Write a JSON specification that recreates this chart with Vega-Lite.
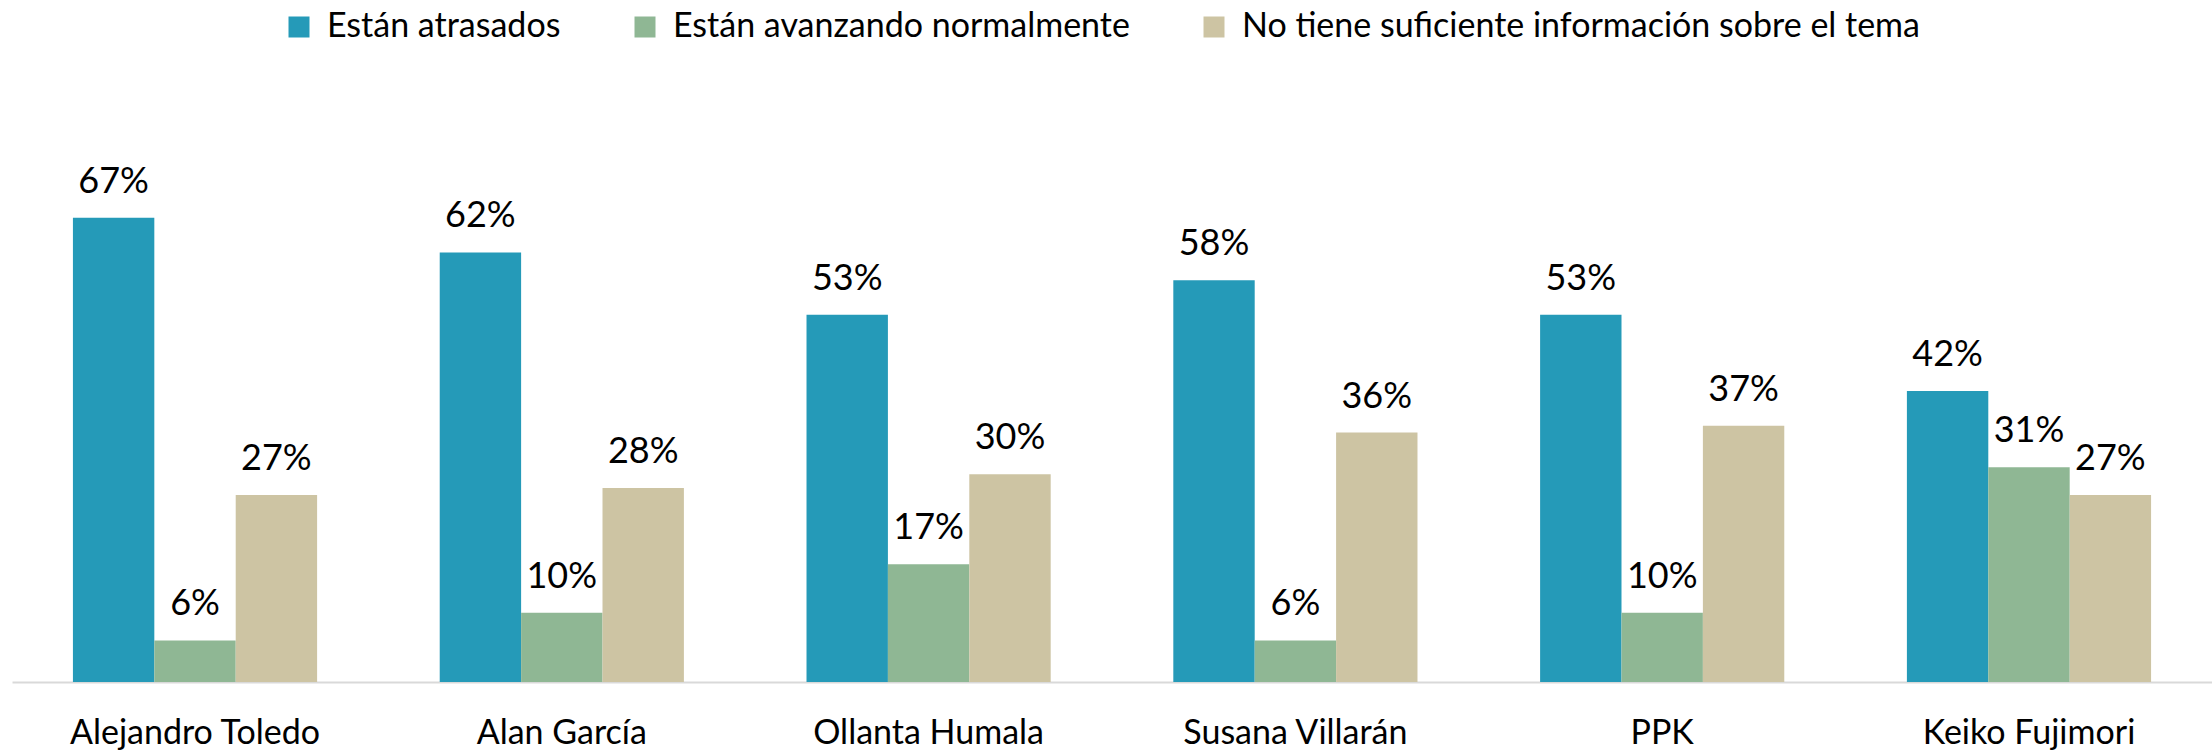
{
  "$schema": "https://vega.github.io/schema/vega-lite/v6.json",
  "autosize": "none",
  "width": 2200,
  "height": 485,
  "padding": {"left": 12, "top": 197, "right": 0, "bottom": 69},
  "background": "white",
  "config": {
    "view": {"stroke": null},
    "font": "Lato",
    "text": {"font": "Lato"}
  },
  "data": {
    "values": [
      {"persona": "Alejandro Toledo", "respuesta": "Están atrasados", "valor": 0.67},
      {"persona": "Alejandro Toledo", "respuesta": "Están avanzando normalmente", "valor": 0.06},
      {"persona": "Alejandro Toledo", "respuesta": "No tiene suficiente información sobre el tema", "valor": 0.27},
      {"persona": "Alan García", "respuesta": "Están atrasados", "valor": 0.62},
      {"persona": "Alan García", "respuesta": "Están avanzando normalmente", "valor": 0.10},
      {"persona": "Alan García", "respuesta": "No tiene suficiente información sobre el tema", "valor": 0.28},
      {"persona": "Ollanta Humala", "respuesta": "Están atrasados", "valor": 0.53},
      {"persona": "Ollanta Humala", "respuesta": "Están avanzando normalmente", "valor": 0.17},
      {"persona": "Ollanta Humala", "respuesta": "No tiene suficiente información sobre el tema", "valor": 0.30},
      {"persona": "Susana Villarán", "respuesta": "Están atrasados", "valor": 0.58},
      {"persona": "Susana Villarán", "respuesta": "Están avanzando normalmente", "valor": 0.06},
      {"persona": "Susana Villarán", "respuesta": "No tiene suficiente información sobre el tema", "valor": 0.36},
      {"persona": "PPK", "respuesta": "Están atrasados", "valor": 0.53},
      {"persona": "PPK", "respuesta": "Están avanzando normalmente", "valor": 0.10},
      {"persona": "PPK", "respuesta": "No tiene suficiente información sobre el tema", "valor": 0.37},
      {"persona": "Keiko Fujimori", "respuesta": "Están atrasados", "valor": 0.42},
      {"persona": "Keiko Fujimori", "respuesta": "Están avanzando normalmente", "valor": 0.31},
      {"persona": "Keiko Fujimori", "respuesta": "No tiene suficiente información sobre el tema", "valor": 0.27}
    ]
  },
  "encoding": {
    "x": {
      "field": "persona",
      "type": "nominal",
      "sort": null,
      "scale": {"paddingInner": 0.3343, "paddingOuter": 0.1661},
      "axis": {
        "title": null,
        "labelAngle": 0,
        "labelFontSize": 34,
        "labelFont": "Lato",
        "labelColor": "#000000",
        "labelPadding": 34,
        "labelLimit": 0,
        "labelOverlap": false,
        "ticks": false,
        "domainColor": "#D9D9D9",
        "domainWidth": 2
      }
    },
    "xOffset": {
      "field": "respuesta",
      "type": "nominal",
      "sort": null,
      "scale": {"paddingInner": 0, "paddingOuter": 0}
    },
    "y": {
      "field": "valor",
      "type": "quantitative",
      "scale": {"domain": [0, 0.7], "nice": false},
      "axis": null
    }
  },
  "layer": [
    {
      "mark": {"type": "bar"},
      "encoding": {
        "color": {
          "field": "respuesta",
          "type": "nominal",
          "sort": null,
          "scale": {
            "domain": ["Están atrasados", "Están avanzando normalmente", "No tiene suficiente información sobre el tema"],
            "range": ["#259AB8", "#8FB794", "#CDC4A3"]
          },
          "legend": {
            "title": null,
            "orient": "none",
            "direction": "horizontal",
            "legendX": 270,
            "legendY": -187,
            "symbolType": "square",
            "symbolSize": 441,
            "symbolStrokeWidth": 0,
            "symbolOpacity": 1,
            "labelFontSize": 34,
            "labelFont": "Lato",
            "labelColor": "#000000",
            "labelOffset": 11,
            "columnPadding": 67,
            "labelLimit": 1000
          }
        }
      }
    },
    {
      "mark": {"type": "text", "baseline": "alphabetic", "dy": -25, "fontSize": 36, "font": "Lato", "color": "#000000"},
      "encoding": {
        "text": {"field": "valor", "type": "quantitative", "format": ".0%"}
      }
    }
  ]
}
